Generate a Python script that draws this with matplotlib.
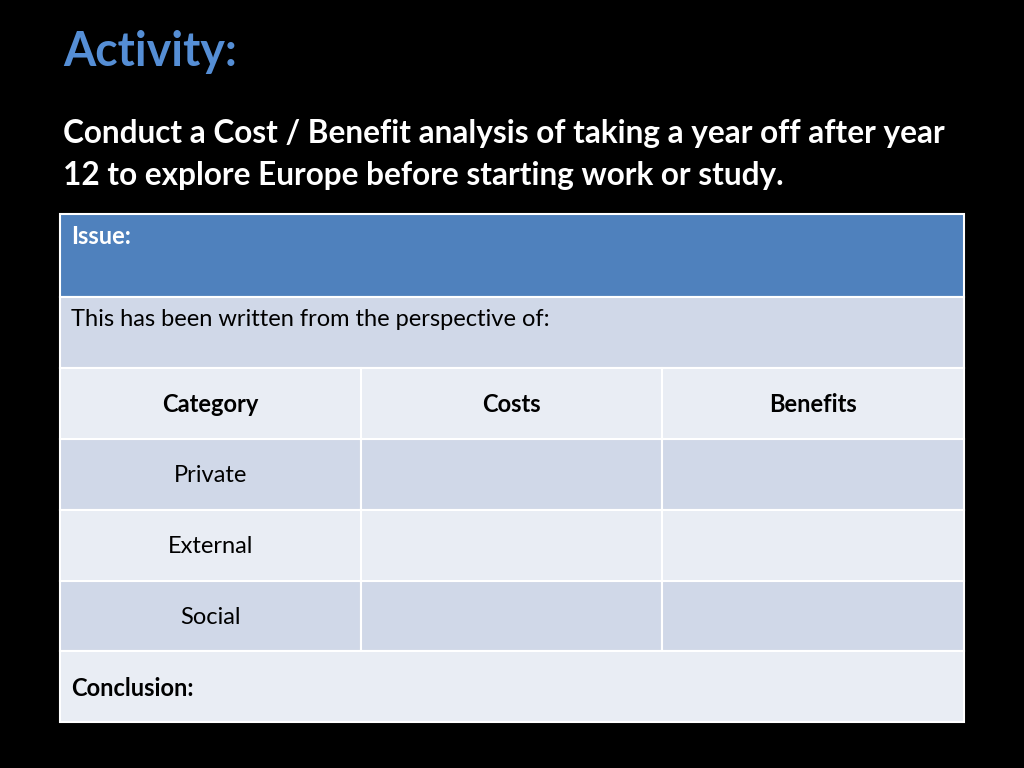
import matplotlib
matplotlib.use("Agg")
import matplotlib.pyplot as plt
from matplotlib.patches import Rectangle

plt.rcParams['font.family'] = ['Lato', 'DejaVu Sans']

# slide text
title = "Activity:"
subtitle_lines = ["Conduct a Cost / Benefit analysis of taking a year off after year",
                  "12 to explore Europe before starting work or study."]
issue_label = "Issue:"
perspective_label = "This has been written from the perspective of:"
header_cells = ["Category", "Costs", "Benefits"]
categories = ["Private", "External", "Social"]
conclusion_label = "Conclusion:"

# colours
BLUE_TITLE = "#558ED5"
BLUE_HEAD = "#4F81BD"
ROW_DARK = "#D0D8E8"
ROW_LIGHT = "#E9EDF4"

# layout (pixel coords)
x0, x1 = 60, 964
col_edges = [60, 361, 662, 964]
row_edges = [214, 297, 368, 439, 510, 581, 651, 722]
CELL_FS = 17

fig = plt.figure(figsize=(10.24, 7.68), dpi=100, facecolor="black")
ax = fig.add_axes([0, 0, 1, 1])
ax.set_xlim(0, 1024)
ax.set_ylim(768, 0)
ax.axis("off")
ax.set_facecolor("black")

ax.text(63, 52, title, color=BLUE_TITLE, fontsize=33.5, fontweight="bold",
        va="center", ha="left")
for i, line in enumerate(subtitle_lines):
    ax.text(63, 133 + i * 42, line, color="white", fontsize=22.7, fontweight="bold",
            va="center", ha="left")

def cell(xa, xb, ya, yb, color):
    ax.add_patch(Rectangle((xa, ya), xb - xa, yb - ya, facecolor=color,
                           edgecolor="white", linewidth=1.5))

# issue row and perspective row span all columns
cell(x0, x1, row_edges[0], row_edges[1], BLUE_HEAD)
cell(x0, x1, row_edges[1], row_edges[2], ROW_DARK)
ax.text(71, 237, issue_label, color="white", fontsize=CELL_FS, fontweight="bold",
        va="center", ha="left")
ax.text(71, 320, perspective_label, color="black", fontsize=CELL_FS,
        va="center", ha="left")

# header row
for j, name in enumerate(header_cells):
    cell(col_edges[j], col_edges[j + 1], row_edges[2], row_edges[3], ROW_LIGHT)
    ax.text((col_edges[j] + col_edges[j + 1]) / 2, (row_edges[2] + row_edges[3]) / 2 + 1,
            name, color="black", fontsize=CELL_FS, fontweight="bold", ha="center", va="center")

# category rows
for i, name in enumerate(categories):
    ya, yb = row_edges[3 + i], row_edges[4 + i]
    color = ROW_DARK if i % 2 == 0 else ROW_LIGHT
    for j in range(3):
        cell(col_edges[j], col_edges[j + 1], ya, yb, color)
    ax.text((col_edges[0] + col_edges[1]) / 2, (ya + yb) / 2 + 1, name, color="black",
            fontsize=CELL_FS, ha="center", va="center")

# conclusion row
cell(x0, x1, row_edges[6], row_edges[7], ROW_LIGHT)
ax.text(71, 689, conclusion_label, color="black", fontsize=CELL_FS, fontweight="bold",
        va="center", ha="left")

fig.savefig("out.png", dpi=100, facecolor="black")
